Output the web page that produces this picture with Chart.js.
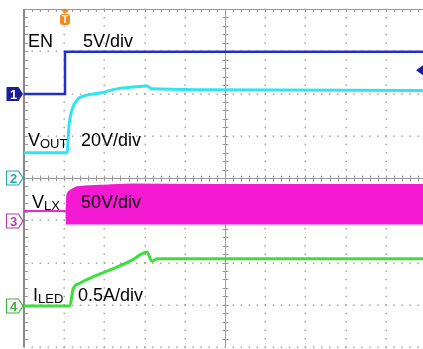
<!DOCTYPE html>
<html>
<head>
<meta charset="utf-8">
<script src="https://cdn.jsdelivr.net/npm/chart.js@4/dist/chart.umd.min.js"></script>
<style>
  html, body { margin: 0; padding: 0; background: #fff; overflow: hidden; }
  #wrap { width: 423px; height: 349px; }
</style>
</head>
<body>
<div id="wrap"><canvas id="scope"></canvas></div>
<script>
// time axis in screen divisions, trigger point at 1.02 div
const triggerTime = 1.02;

// CH1: EN (V)
const enTime = [0, 1.02, 1.02, 9.93];
const enVolts = [0, 0, 5.0, 5.0];
const enTrigLevel = 2.8;

// CH2: VOUT (V)
const voutTime = [0, 1.07, 1.12, 1.19, 1.32, 1.57, 1.89, 2.31, 2.71, 3.06, 3.18, 4.38, 9.93];
const voutVolts = [12, 12, 25, 32, 37, 39.2, 40.2, 42.2, 43.1, 43.6, 42.2, 41.8, 41.4];

// CH3: VLX switching node, envelope (V)
const vlxTopTime = [0, 1.05, 1.07, 1.14, 1.32, 1.89, 2.71, 4.68, 9.93];
const vlxTopVolts = [12, 12, 29.7, 35.6, 40.3, 42.1, 43.5, 43.0, 43.0];
const vlxBotTime = [0, 1.05, 1.06, 9.93];
const vlxBotVolts = [12, 12, -3, -3];

// CH4: ILED (A)
const iledTime = [0, 1.14, 1.22, 1.39, 1.89, 2.31, 2.71, 3.06, 3.18, 3.31, 9.93];
const iledAmps = [0, 0, 0.20, 0.27, 0.38, 0.46, 0.55, 0.64, 0.53, 0.56, 0.56];

// channel settings
const chNames = ['EN', 'VOUT', 'VLX', 'ILED'];
const chScale = [5, 20, 50, 0.5];          // units per division
const chScaleText = ['5V/div', '20V/div', '50V/div', '0.5A/div'];
const chOffset = [5.99, 4.0, 2.98, 0.97];   // ground marker position, divisions
const chColor = ['#2030c8', '#30e4f0', '#f41ad4', '#3ce03c'];
const chMarkColor = ['#1c1ca0', '#22aaaa', '#b040b0', '#40b040'];

function toDiv(ch, times, vals) {
  return times.map((t, i) => ({ x: t, y: chOffset[ch] + vals[i] / chScale[ch] }));
}

const scopePlugin = {
  id: 'scope',
  beforeDatasetsDraw(chart) {
    const { ctx, chartArea: a, scales: { x, y } } = chart;
    ctx.save();
    ctx.fillStyle = '#999';
    // dotted graticule
    for (let i = 1; i <= 9; i++) {
      if (i === 5) continue;
      const px = Math.round(x.getPixelForValue(i));
      for (let j = 0; j <= 40; j++) {
        const py = y.getPixelForValue(j / 5);
        ctx.fillRect(px - 0.5, py - 0.5, 1.4, 1.4);
      }
    }
    for (let j = 0; j <= 7; j++) {
      if (j === 4) continue;
      const py = Math.round(y.getPixelForValue(j));
      for (let k = 0; k <= 50; k++) {
        const px = x.getPixelForValue(k / 5);
        if (px > a.right) break;
        ctx.fillRect(px - 0.5, py - 0.5, 1.4, 1.4);
      }
    }
    ctx.strokeStyle = '#999';
    ctx.lineWidth = 1;
    // center axes
    const cx = Math.round(x.getPixelForValue(5)) + 0.5;
    const cy = Math.round(y.getPixelForValue(4)) + 0.5;
    ctx.beginPath();
    ctx.moveTo(a.left, cy); ctx.lineTo(a.right, cy);
    ctx.moveTo(cx, a.top); ctx.lineTo(cx, a.bottom);
    for (let k = 1; k <= 50; k++) {
      const px = Math.round(x.getPixelForValue(k / 5)) + 0.5;
      if (px > a.right) break;
      ctx.moveTo(px, cy - 3); ctx.lineTo(px, cy + 3);
      ctx.moveTo(px, a.top); ctx.lineTo(px, a.top + 3);
    }
    for (let j = 1; j < 40; j++) {
      const py = Math.round(y.getPixelForValue(j / 5)) + 0.5;
      ctx.moveTo(cx - 3, py); ctx.lineTo(cx + 3, py);
      ctx.moveTo(a.left, py); ctx.lineTo(a.left + 4, py);
    }
    ctx.stroke();
    // frame
    ctx.beginPath();
    ctx.moveTo(a.left, a.top + 0.5); ctx.lineTo(a.right, a.top + 0.5);
    ctx.stroke();
    ctx.lineWidth = 2;
    ctx.strokeStyle = '#888';
    ctx.beginPath();
    ctx.moveTo(a.left, a.top); ctx.lineTo(a.left, a.bottom);
    ctx.stroke();
    ctx.restore();
  },
  afterDatasetsDraw(chart) {
    const { ctx, chartArea: a, scales: { x, y } } = chart;
    ctx.save();
    // channel ground markers
    for (let c = 0; c < 4; c++) {
      const py = Math.round(y.getPixelForValue(chOffset[c]));
      ctx.beginPath();
      ctx.moveTo(6.5, py - 7); ctx.lineTo(18.5, py - 7); ctx.lineTo(23, py);
      ctx.lineTo(18.5, py + 7); ctx.lineTo(6.5, py + 7); ctx.closePath();
      ctx.lineWidth = 1.2;
      if (c === 0) {
        ctx.fillStyle = chMarkColor[c]; ctx.fill();
        ctx.fillStyle = '#fff';
      } else {
        ctx.fillStyle = '#fff'; ctx.fill();
        ctx.strokeStyle = chMarkColor[c]; ctx.stroke();
        ctx.fillStyle = chMarkColor[c];
      }
      ctx.font = 'bold 13px "Liberation Sans", Arial, sans-serif';
      ctx.textAlign = 'center';
      ctx.textBaseline = 'middle';
      ctx.fillText(String(c + 1), 13.5, py + 1);
    }
    // trigger time marker
    const tx = Math.round(x.getPixelForValue(triggerTime));
    ctx.fillStyle = '#f08a24';
    ctx.beginPath();
    ctx.moveTo(tx - 5, a.top); ctx.lineTo(tx + 5, a.top); ctx.lineTo(tx, a.top + 5);
    ctx.closePath(); ctx.fill();
    ctx.beginPath();
    ctx.roundRect(tx - 5, a.top + 5, 10, 11, 3);
    ctx.fill();
    ctx.fillStyle = '#fff';
    ctx.font = 'bold 10px "Liberation Sans", Arial, sans-serif';
    ctx.textAlign = 'center';
    ctx.textBaseline = 'middle';
    ctx.fillText('T', tx, a.top + 11);
    // trigger level marker
    const ty = y.getPixelForValue(chOffset[0] + enTrigLevel / chScale[0]);
    ctx.fillStyle = chMarkColor[0];
    ctx.beginPath();
    ctx.moveTo(a.right - 7, ty); ctx.lineTo(a.right, ty - 5); ctx.lineTo(a.right, ty + 5);
    ctx.closePath(); ctx.fill();
    // labels
    ctx.fillStyle = '#000';
    ctx.textAlign = 'left';
    ctx.textBaseline = 'alphabetic';
    const big = '18px "Liberation Sans", Arial, sans-serif';
    const small = '13px "Liberation Sans", Arial, sans-serif';
    const labels = [
      { main: 'EN', sub: '', x: 28, y: 47, sx: 83 },
      { main: 'V', sub: 'OUT', x: 28, y: 146, sx: 81 },
      { main: 'V', sub: 'LX', x: 32, y: 208, sx: 81 },
      { main: 'I', sub: 'LED', x: 33, y: 301, sx: 78 }
    ];
    labels.forEach((l, c) => {
      ctx.font = big;
      ctx.fillText(l.main, l.x, l.y);
      const w = ctx.measureText(l.main).width;
      if (l.sub) {
        ctx.font = small;
        ctx.fillText(l.sub, l.x + w, l.y + 2);
      }
      ctx.font = big;
      ctx.fillText(chScaleText[c], l.sx, l.y);
    });
    ctx.restore();
  }
};

const lineDs = (label, pts, color, width, smooth) => ({
  label, data: pts, borderColor: color, borderWidth: width,
  pointRadius: 0, tension: smooth ? 0.4 : 0,
  cubicInterpolationMode: smooth ? 'monotone' : 'default', fill: false
});

const datasets = [
  lineDs(chNames[0], toDiv(0, enTime, enVolts), chColor[0], 2.5, false),
  lineDs(chNames[1], toDiv(1, voutTime, voutVolts), chColor[1], 3, true),
  Object.assign(lineDs(chNames[2] + ' max', toDiv(2, vlxTopTime, vlxTopVolts), chColor[2], 1.5, true),
    { fill: '+1', backgroundColor: chColor[2] }),
  lineDs(chNames[2] + ' min', toDiv(2, vlxBotTime, vlxBotVolts), chColor[2], 1.5, false),
  lineDs(chNames[3], toDiv(3, iledTime, iledAmps), chColor[3], 3, true)
];

new Chart(document.getElementById('scope'), {
  type: 'line',
  data: { datasets },
  options: {
    responsive: true,
    maintainAspectRatio: false,
    animation: false,
    events: [],
    layout: { padding: { left: 24, top: 9, right: 0, bottom: 2 } },
    plugins: { legend: { display: false }, tooltip: { enabled: false } },
    scales: {
      x: { type: 'linear', min: 0, max: 9.925, display: false },
      y: { type: 'linear', min: 0, max: 8, display: false }
    }
  },
  plugins: [scopePlugin]
});
</script>
</body>
</html>
